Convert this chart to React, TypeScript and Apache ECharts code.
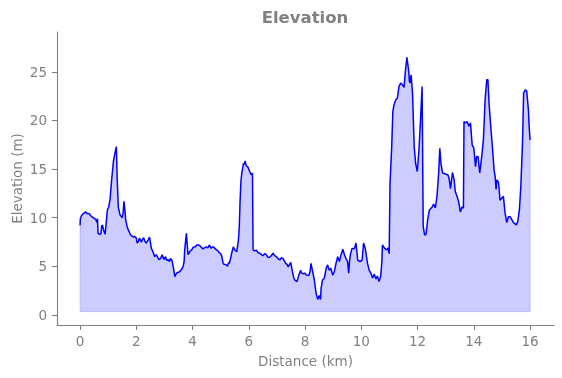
import React, { useEffect, useRef } from "react";
import * as echarts from "echarts";

const distanceKm: number[] = [
  0.0, 0.01, 0.05, 0.1, 0.2, 0.26, 0.32, 0.38, 0.44, 0.5, 0.56, 0.6, 0.62, 0.64, 0.7, 0.74, 0.77, 0.8, 0.83, 0.89,
  0.93, 0.97, 1.02, 1.07, 1.12, 1.19, 1.25, 1.29, 1.32, 1.36, 1.42, 1.5, 1.53, 1.56, 1.6, 1.62, 1.68, 1.74, 1.8, 1.85,
  1.9, 1.94, 2.0, 2.03, 2.08, 2.11, 2.18, 2.22, 2.26, 2.3, 2.35, 2.42, 2.47, 2.5, 2.53, 2.59, 2.65, 2.7, 2.74, 2.8,
  2.86, 2.92, 2.98, 3.04, 3.08, 3.12, 3.18, 3.21, 3.27, 3.31, 3.37, 3.41, 3.45, 3.54, 3.61, 3.66, 3.7, 3.72, 3.78, 3.81,
  3.84, 3.92, 3.97, 4.03, 4.1, 4.15, 4.21, 4.27, 4.33, 4.37, 4.48, 4.54, 4.6, 4.66, 4.7, 4.74, 4.83, 4.9, 4.95, 5.0,
  5.04, 5.08, 5.1, 5.2, 5.24, 5.28, 5.31, 5.35, 5.39, 5.45, 5.5, 5.57, 5.63, 5.66, 5.69, 5.72, 5.75, 5.81, 5.84, 5.87,
  5.9, 5.93, 5.97, 6.03, 6.09, 6.13, 6.15, 6.2, 6.27, 6.33, 6.39, 6.45, 6.5, 6.56, 6.62, 6.68, 6.74, 6.8, 6.86, 6.92,
  6.98, 7.04, 7.1, 7.16, 7.22, 7.31, 7.36, 7.4, 7.49, 7.55, 7.6, 7.63, 7.71, 7.78, 7.84, 7.88, 7.92, 8.0, 8.04, 8.13,
  8.18, 8.21, 8.27, 8.33, 8.39, 8.45, 8.5, 8.55, 8.57, 8.62, 8.68, 8.75, 8.8, 8.86, 8.92, 8.98, 9.04, 9.1, 9.16, 9.22,
  9.28, 9.34, 9.4, 9.46, 9.51, 9.55, 9.58, 9.61, 9.67, 9.75, 9.81, 9.85, 9.87, 9.95, 10.03, 10.08, 10.14, 10.16, 10.22, 10.28,
  10.34, 10.4, 10.46, 10.52, 10.57, 10.63, 10.69, 10.73, 10.75, 10.83, 10.9, 10.95, 10.99, 11.02, 11.08, 11.12, 11.16, 11.22, 11.28, 11.34,
  11.4, 11.46, 11.52, 11.56, 11.62, 11.68, 11.71, 11.73, 11.77, 11.82, 11.88, 11.93, 11.99, 12.05, 12.11, 12.16, 12.2, 12.25, 12.3, 12.36,
  12.42, 12.52, 12.57, 12.63, 12.69, 12.75, 12.79, 12.83, 12.89, 12.99, 13.08, 13.12, 13.17, 13.24, 13.3, 13.34, 13.4, 13.46, 13.52, 13.58,
  13.63, 13.65, 13.7, 13.76, 13.82, 13.88, 13.94, 14.0, 14.06, 14.1, 14.15, 14.21, 14.28, 14.34, 14.4, 14.46, 14.5, 14.54, 14.6, 14.66,
  14.72, 14.76, 14.79, 14.82, 14.88, 14.93, 14.99, 15.05, 15.11, 15.17, 15.23, 15.29, 15.35, 15.41, 15.51, 15.56, 15.62, 15.67, 15.73, 15.77,
  15.83, 15.88, 15.94, 15.97, 16.0,
];

const elevationM: number[] = [
  9.2, 9.9, 10.2, 10.4, 10.6, 10.4, 10.45, 10.2, 10.05, 9.95, 9.8, 9.5, 9.9, 8.4, 8.3, 8.35, 9.2, 9.2, 8.8, 8.3,
  9.5, 10.8, 11.1, 12.0, 13.8, 15.9, 16.8, 17.3, 14.0, 11.1, 10.3, 10.0, 10.5, 11.7, 10.6, 9.8, 9.0, 8.6, 8.2, 8.1,
  8.0, 8.1, 7.9, 7.4, 7.6, 7.9, 7.5, 7.8, 7.95, 7.6, 7.4, 7.7, 8.0, 7.5, 6.9, 6.5, 6.0, 6.2, 6.05, 5.7,
  5.8, 6.2, 5.7, 6.0, 5.6, 5.7, 5.5, 5.8, 5.6, 5.0, 3.95, 4.2, 4.35, 4.45, 4.7, 4.95, 5.5, 6.7, 8.4, 7.2,
  6.2, 6.6, 6.7, 7.0, 7.0, 7.2, 7.2, 7.1, 6.9, 6.8, 7.0, 6.9, 7.2, 6.85, 7.0, 7.0, 6.75, 6.6, 6.4, 6.3,
  6.0, 5.4, 5.25, 5.15, 5.0, 5.4, 5.3, 5.8, 6.35, 7.0, 6.7, 6.5, 7.7, 9.0, 11.8, 13.8, 14.6, 15.6, 15.5, 15.85,
  15.4, 15.3, 15.2, 14.75, 14.4, 14.6, 6.7, 6.6, 6.65, 6.4, 6.35, 6.2, 6.1, 6.3, 6.2, 5.9, 5.95, 6.1, 6.35, 6.1,
  6.0, 5.8, 5.65, 5.9, 5.8, 5.3, 5.2, 4.95, 5.4, 4.45, 3.8, 3.6, 3.43, 4.1, 4.6, 4.3, 4.25, 4.3, 4.1, 4.05,
  4.5, 5.3, 4.45, 3.6, 2.23, 1.6, 2.0, 1.6, 2.75, 3.6, 3.75, 4.8, 5.15, 4.6, 4.8, 4.1, 4.45, 5.3, 6.0, 5.5,
  6.2, 6.75, 6.2, 5.75, 5.5, 4.3, 5.5, 6.2, 6.85, 6.8, 7.4, 6.3, 5.65, 5.5, 5.65, 7.4, 6.85, 6.85, 5.3, 4.6,
  4.3, 3.8, 4.2, 3.7, 4.0, 3.43, 4.0, 5.5, 7.2, 6.85, 6.7, 6.9, 6.3, 13.5, 17.3, 20.9, 21.6, 22.1, 22.3, 23.5,
  23.85, 23.7, 23.4, 24.9, 26.5, 25.2, 24.0, 23.85, 24.7, 22.8, 17.3, 15.6, 14.75, 17.0, 20.4, 23.5, 9.1, 8.2, 8.3, 9.8,
  10.8, 11.1, 11.4, 11.0, 12.2, 14.6, 17.15, 15.6, 14.6, 14.5, 14.4, 14.05, 13.0, 14.65, 13.9, 12.7, 12.2, 11.65, 10.6, 11.1,
  11.0, 19.9, 19.75, 19.9, 19.4, 19.75, 17.5, 17.15, 15.25, 16.3, 16.3, 14.6, 16.3, 18.0, 22.1, 24.2, 24.2, 21.8, 19.4, 17.3,
  14.9, 14.2, 12.9, 13.9, 13.6, 11.8, 12.0, 12.2, 10.5, 9.5, 10.1, 10.1, 9.8, 9.5, 9.26, 9.6, 10.8, 13.2, 17.7, 22.8,
  23.15, 23.0, 21.1, 19.2, 18.0,
];

const fillBase = 0.35;
const xTicks: number[] = [0, 2, 4, 6, 8, 10, 12, 14, 16];
const yTicks: number[] = [0, 5, 10, 15, 20, 25];

const GRAY = "#808080";
const FONT = "DejaVu Sans";

export default function App() {
  const ref = useRef<HTMLDivElement>(null);

  useEffect(() => {
    if (!ref.current) return;
    const chart = echarts.init(ref.current, undefined, { renderer: "svg" });
    const lineData = distanceKm.map((d, i) => [d, elevationM[i]]);
    const n = distanceKm.length;
    const edgeData = [
      [distanceKm[0], elevationM[0]],
      [distanceKm[0], fillBase],
      [distanceKm[n - 1], fillBase],
      [distanceKm[n - 1], elevationM[n - 1]],
    ];
    chart.setOption({
      animation: false,
      title: {
        text: "Elevation",
        left: 300,
        top: 4,
        textAlign: "center",
        textStyle: { color: GRAY, fontFamily: FONT, fontSize: 16.5, fontWeight: "bold" },
      },
      grid: { left: 57, right: 8, top: 32, bottom: 53, containLabel: false, outerBoundsMode: "none" },
      xAxis: {
        type: "value",
        min: -0.82,
        max: 16.85,
        name: "Distance (km)",
        nameLocation: "middle",
        nameGap: 29,
        nameMoveOverlap: false,
        nameTextStyle: { color: GRAY, fontFamily: FONT, fontSize: 13.5 },
        axisLine: { onZero: false, lineStyle: { color: GRAY, width: 1.1 } },
        axisTick: { show: true, length: 5, lineStyle: { color: GRAY, width: 1.1 }, customValues: xTicks },
        axisLabel: { color: GRAY, fontFamily: FONT, fontSize: 13.5, margin: 9, customValues: xTicks },
        splitLine: { show: false },
      },
      yAxis: {
        type: "value",
        min: -1.03,
        max: 29.1,
        name: "Elevation (m)",
        nameLocation: "middle",
        nameGap: 33,
        nameRotate: 90,
        nameMoveOverlap: false,
        nameTextStyle: { color: GRAY, fontFamily: FONT, fontSize: 13.5 },
        axisLine: { show: true, onZero: false, lineStyle: { color: GRAY, width: 1.1 } },
        axisTick: { show: true, length: 5, lineStyle: { color: GRAY, width: 1.1 }, customValues: yTicks },
        axisLabel: { color: GRAY, fontFamily: FONT, fontSize: 13.5, margin: 10, customValues: yTicks },
        splitLine: { show: false },
      },
      series: [
        {
          type: "line",
          data: lineData,
          showSymbol: false,
          symbol: "none",
          lineStyle: { color: "#0000ff", width: 1.5 },
          areaStyle: { color: "rgba(0,0,255,0.2)", origin: fillBase, opacity: 1 },
          z: 3,
        },
        {
          type: "line",
          data: edgeData,
          showSymbol: false,
          symbol: "none",
          lineStyle: { color: "rgba(0,0,255,0.2)", width: 1 },
          z: 2,
        },
      ],
    });
    return () => chart.dispose();
  }, []);

  return (
    <div
      ref={ref}
      style={{ position: "fixed", left: 0, top: 0, width: 562, height: 378 }}
    />
  );
}
